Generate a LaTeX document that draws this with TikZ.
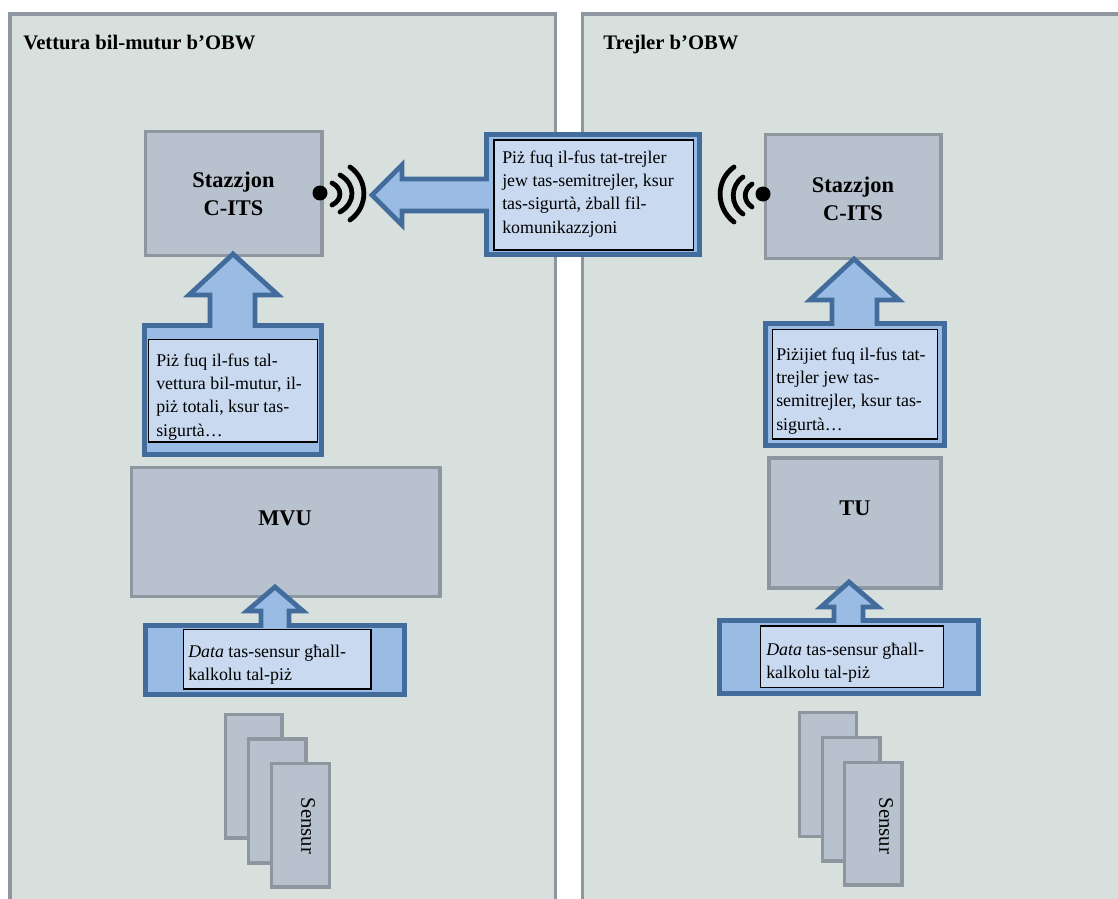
\documentclass[tikz,border=0pt]{standalone}
\usepackage{fontspec}
\setmainfont{Liberation Serif}
\definecolor{panelfill}{HTML}{D7E0DD}
\definecolor{greyline}{HTML}{8E979F}
\definecolor{greyfill}{HTML}{B7C2CE}
\definecolor{bluefill}{HTML}{9ABBE3}
\definecolor{blueline}{HTML}{416C9C}
\definecolor{innerfill}{HTML}{C8D9F0}
\newcommand{\ml}[1]{\begin{tabular}[t]{@{}l@{}}#1\end{tabular}}
\newcommand{\mc}[1]{\begin{tabular}[t]{@{}c@{}}#1\end{tabular}}
\tikzset{
  panelborder/.style={draw=greyline,line width=2.7pt},
  unitbox/.style={fill=greyfill,draw=greyline,line width=2.6pt},
  callout/.style={fill=bluefill,draw=blueline,line width=3.6pt,miter limit=10},
  innerbox/.style={fill=innerfill,draw=black,line width=0.8pt},
  txt/.style={anchor=base west,inner sep=0pt,font=\fontsize{13.4}{17.5}\selectfont},
  title/.style={anchor=base west,inner sep=0pt,font=\fontsize{15.5}{18}\selectfont\bfseries},
  unitlabel/.style={anchor=base,inner sep=0pt,align=center,font=\fontsize{16.8}{21}\selectfont\bfseries},
  sensorlabel/.style={inner sep=0pt,rotate=-90,font=\fontsize{15.5}{18}\selectfont},
  wave/.style={draw=black,line width=3.6pt,line cap=round}
}
\begin{document}
\begin{tikzpicture}[x=0.75pt,y=-0.75pt]
\useasboundingbox (0,0) rectangle (1118,899);
% panels
\fill[panelfill] (10,14) rectangle (555.5,899);
\fill[panelfill] (582.5,14) rectangle (1118,899);
\draw[panelborder] (10,899) -- (10,14) -- (555.5,14) -- (555.5,899);
\draw[panelborder] (582.5,899) -- (582.5,14) -- (1118,14);
\node[title] (t1) at (23,50) {Vettura bil-mutur b’OBW};
\node[title] (t2) at (603,50) {Trejler b’OBW};
% grey units
\draw[unitbox] (145.5,131.5) rectangle (322,255.5);
\draw[unitbox] (765.5,134.5) rectangle (941,258.5);
\draw[unitbox] (131.5,467.5) rectangle (440,596.5);
\draw[unitbox] (769,458) rectangle (941,588);
% sensors
\draw[unitbox] (225.5,714.5) rectangle (282,838);
\draw[unitbox] (248.5,739) rectangle (306,863);
\draw[unitbox] (271.5,763.5) rectangle (329.5,887);
\draw[unitbox] (799.5,712.5) rectangle (856.5,836.5);
\draw[unitbox] (822.5,737.5) rectangle (880,861);
\draw[unitbox] (844.5,762.5) rectangle (902,885);
% callouts with arrows
\draw[callout] (486.5,134.5) -- (699.5,134.5) -- (699.5,254.5) -- (486.5,254.5) -- (486.5,211) -- (402,211) -- (402,225) -- (372,195) -- (402,165) -- (402,179) -- (486.5,179) -- cycle;
\draw[callout] (144.5,325.5) -- (210,325.5) -- (210,295) -- (189,295) -- (233,254) -- (278,295) -- (255,295) -- (255,325.5) -- (321.5,325.5) -- (321.5,454.5) -- (144.5,454.5) -- cycle;
\draw[callout] (145.5,625.5) -- (261,625.5) -- (261,611) -- (247,611) -- (275,587) -- (303,611) -- (289,611) -- (289,625.5) -- (404.5,625.5) -- (404.5,694.5) -- (145.5,694.5) -- cycle;
\draw[callout] (765.5,323.5) -- (832,323.5) -- (832,300) -- (810,300) -- (854,259) -- (899,300) -- (877,300) -- (877,323.5) -- (944.5,323.5) -- (944.5,445.5) -- (765.5,445.5) -- cycle;
\draw[callout] (719.5,620.5) -- (834,620.5) -- (834,607) -- (821,607) -- (849,582) -- (878,607) -- (863,607) -- (863,620.5) -- (978.5,620.5) -- (978.5,693.5) -- (719.5,693.5) -- cycle;
% inner boxes
\draw[innerbox] (494,140) rectangle (693.5,250);
\draw[innerbox] (148.5,339.5) rectangle (317.5,442);
\draw[innerbox] (183.5,629.5) rectangle (371,689);
\draw[innerbox] (772.5,329.5) rectangle (937.5,439);
\draw[innerbox] (760.5,626) rectangle (943.5,687.5);
% inner texts
\node[txt] (c1) at (502,163) {\ml{Piż fuq il-fus tat-trejler\\jew tas-semitrejler, ksur\\tas-sigurtà, żball fil-\\komunikazzjoni}};
\node[txt] (c2) at (156,366) {\ml{Piż fuq il-fus tal-\\vettura bil-mutur, il-\\piż totali, ksur tas-\\sigurtà…}};
\node[txt] (c3) at (188,657) {\ml{\textit{Data} tas-sensur għall-\\kalkolu tal-piż}};
\node[txt] (c4) at (776,360) {\ml{Piżijiet fuq il-fus tat-\\trejler jew tas-\\semitrejler, ksur tas-\\sigurtà…}};
\node[txt] (c5) at (766,655) {\ml{\textit{Data} tas-sensur għall-\\kalkolu tal-piż}};
% unit labels
\node[unitlabel] (u1) at (233.5,187) {\mc{Stazzjon\\C-ITS}};
\node[unitlabel] (u2) at (853,192) {\mc{Stazzjon\\C-ITS}};
\node[unitlabel] (u3) at (285,525) {MVU};
\node[unitlabel] (u4) at (855,515) {TU};
\node[sensorlabel] (s1) at (308,826) {Sensur};
\node[sensorlabel] (s2) at (886,826) {Sensur};
% radio icons
\fill[black] (320,193) circle (7.5);
\draw[wave] (332,183) .. controls (342.5,188) and (342.5,200) .. (332,205);
\draw[wave] (340,175) .. controls (356,184) and (356,203) .. (340,212);
\draw[wave] (350,167) .. controls (368.5,180) and (368.5,207) .. (350,220);
\fill[black] (763,194) circle (7.5);
\draw[wave] (752,184) .. controls (743,190) and (743,201) .. (752,207);
\draw[wave] (743,177) .. controls (730,186) and (730,205) .. (743,214);
\draw[wave] (734,167) .. controls (715.5,180) and (715.5,208) .. (734,222);
\end{tikzpicture}
\end{document}
